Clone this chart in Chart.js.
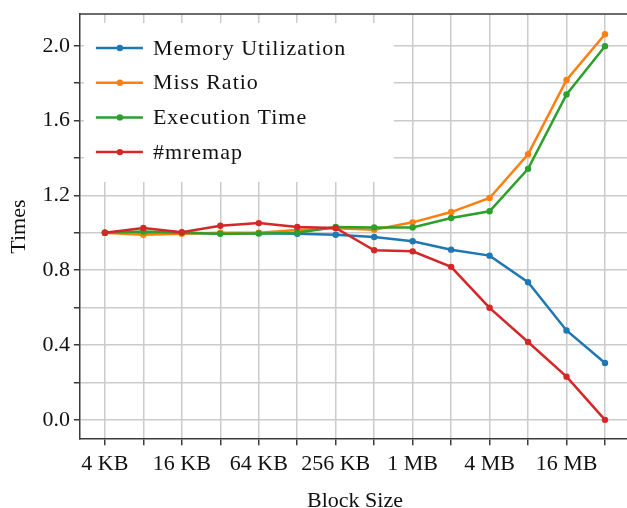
<!DOCTYPE html>
<html>
<head>
<meta charset="utf-8">
<script src="https://cdn.jsdelivr.net/npm/chart.js@4.4.1/dist/chart.umd.min.js"></script>
<style>
  html, body { margin: 0; padding: 0; background: #fff; overflow: hidden; }
  #wrap { position: absolute; left: 0; top: 0; width: 640px; height: 514px; }
</style>
</head>
<body>
<div id="wrap"><canvas id="blockChart"></canvas></div>
<script>
// data
const blockSizes = ["4 KB", "8 KB", "16 KB", "32 KB", "64 KB", "128 KB", "256 KB", "512 KB", "1 MB", "2 MB", "4 MB", "8 MB", "16 MB", "32 MB"];
const memoryUtilization = [1.0, 1.0, 1.0, 0.997, 0.998, 0.995, 0.99, 0.978, 0.955, 0.91, 0.878, 0.736, 0.478, 0.304];
const missRatio = [1.0, 0.99, 0.995, 1.0, 1.0, 1.015, 1.025, 1.017, 1.056, 1.111, 1.186, 1.42, 1.817, 2.062];
const executionTime = [1.0, 1.007, 1.0, 0.995, 0.997, 1.0, 1.031, 1.029, 1.029, 1.079, 1.115, 1.342, 1.74, 1.998];
const mremapCount = [1.0, 1.026, 1.003, 1.038, 1.052, 1.031, 1.026, 0.907, 0.901, 0.818, 0.599, 0.416, 0.231, 0.0];

const seriesNames = ["Memory Utilization", "Miss Ratio", "Execution Time", "#mremap"];
const seriesColors = ["#1f77b4", "#ff7f0e", "#2ca02c", "#d62728"];
const seriesValues = [memoryUtilization, missRatio, executionTime, mremapCount];

const FONT = "'Liberation Serif', 'DejaVu Serif', serif";
const fontSize = 22;
const gridColor = "#cbcbcb";
const axisColor = "#3a3a3a";

// legend drawn inside the plot (upper left)
const insideLegend = {
  id: "insideLegend",
  afterDatasetsDraw(chart) {
    const ctx = chart.ctx;
    const area = chart.chartArea;
    ctx.save();
    ctx.fillStyle = "#fff";
    ctx.fillRect(area.left + 4, area.top + 9, 310, 159);
    ctx.font = `${fontSize}px ${FONT}`;
    ctx.letterSpacing = "1px";
    ctx.textBaseline = "middle";
    seriesNames.forEach((name, i) => {
      const y = area.top + 34 + i * 34.7;
      const x0 = area.left + 16;
      ctx.strokeStyle = seriesColors[i];
      ctx.lineWidth = 2.5;
      ctx.beginPath();
      ctx.moveTo(x0, y);
      ctx.lineTo(x0 + 47, y);
      ctx.stroke();
      ctx.fillStyle = seriesColors[i];
      ctx.beginPath();
      ctx.arc(x0 + 24, y, 3.2, 0, Math.PI * 2);
      ctx.fill();
      ctx.fillStyle = "#111";
      ctx.fillText(name, x0 + 57, y + 1);
    });
    ctx.restore();
  },
};

const canvas = document.getElementById("blockChart");
const blockChart = new Chart(canvas, {
  type: "line",
  data: {
    datasets: seriesValues.map((values, i) => ({
      label: seriesNames[i],
      data: values.map((v, j) => ({ x: j, y: v })),
      borderColor: seriesColors[i],
      backgroundColor: seriesColors[i],
      borderWidth: 2.5,
      pointRadius: 3.2,
      pointHoverRadius: 3.2,
      pointBorderWidth: 0,
      tension: 0,
      order: 4 - i,
    })),
  },
  options: {
    responsive: true,
    maintainAspectRatio: false,
    animation: false,
    layout: {
      padding: { top: 14, right: 10, left: 6, bottom: 0 },
    },
    plugins: {
      legend: { display: false },
      tooltip: { enabled: false },
    },
    scales: {
      x: {
        type: "linear",
        min: -0.65,
        max: 13.65,
        border: { display: true, color: axisColor, width: 1.5 },
        grid: {
          color: gridColor,
          lineWidth: 1.5,
          drawTicks: true,
          tickLength: 6,
          tickColor: axisColor,
        },
        ticks: {
          stepSize: 1,
          includeBounds: false,
          autoSkip: false,
          maxRotation: 0,
          padding: 6,
          color: "#111",
          font: { family: FONT, size: fontSize },
          callback: (value) => (Number.isInteger(value) && value % 2 === 0 ? blockSizes[value] : ""),
        },
        title: {
          display: true,
          text: "Block Size",
          color: "#111",
          font: { family: FONT, size: fontSize },
          padding: { top: 4, bottom: 0 },
        },
      },
      y: {
        min: -0.1035,
        max: 2.17,
        // no extra room above the plot for the top label
        afterFit: (scale) => {
          scale.paddingTop = 0;
        },
        border: { display: true, color: axisColor, width: 1.5 },
        grid: {
          color: gridColor,
          lineWidth: 1.5,
          drawTicks: true,
          tickLength: 6,
          tickColor: axisColor,
        },
        ticks: {
          stepSize: 0.2,
          includeBounds: false,
          padding: 4,
          color: "#111",
          font: { family: FONT, size: fontSize },
          callback: (value) => (Math.round(value * 10) % 4 === 0 ? value.toFixed(1) : ""),
        },
        title: {
          display: true,
          text: "Times",
          color: "#111",
          font: { family: FONT, size: fontSize },
          padding: { top: 0, bottom: 6 },
        },
      },
    },
  },
  plugins: [
    insideLegend,
    {
      // top spine
      id: "topSpine",
      afterDraw(chart) {
        const { ctx, chartArea } = chart;
        ctx.save();
        ctx.strokeStyle = axisColor;
        ctx.lineWidth = 1.5;
        ctx.beginPath();
        ctx.moveTo(chartArea.left, chartArea.top);
        ctx.lineTo(chartArea.right, chartArea.top);
        ctx.stroke();
        ctx.restore();
      },
    },
  ],
});
</script>
</body>
</html>
